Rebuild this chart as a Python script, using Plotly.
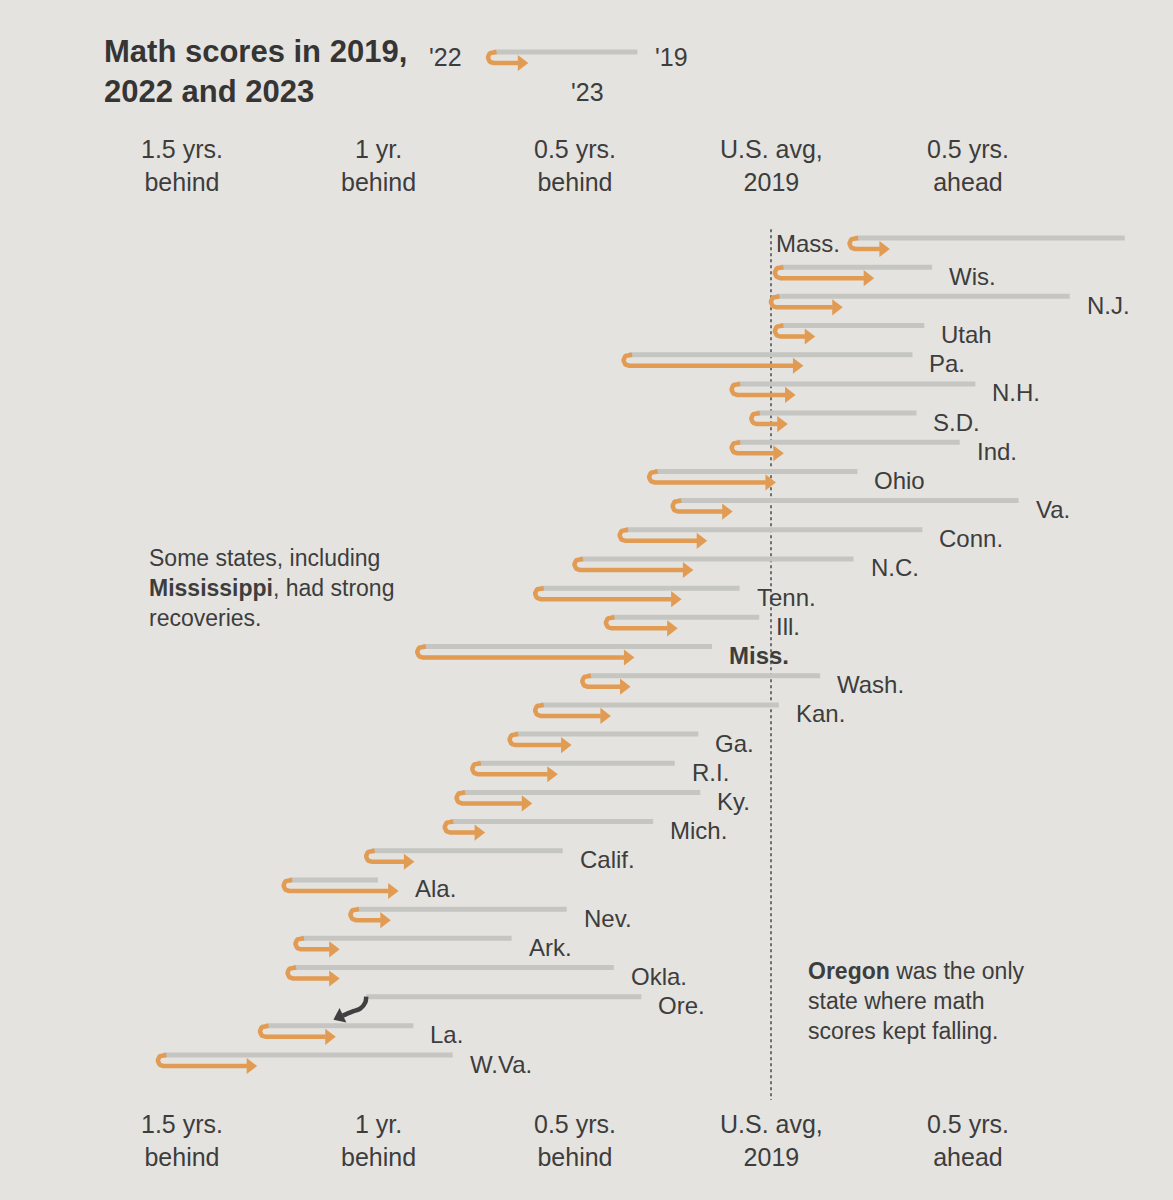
import numpy as np
import plotly.graph_objects as go

# ---------------- data (years relative to U.S. average 2019) ----------------
states = ["Mass.", "Wis.", "N.J.", "Utah", "Pa.", "N.H.", "S.D.", "Ind.", "Ohio", "Va.",
          "Conn.", "N.C.", "Tenn.", "Ill.", "Miss.", "Wash.", "Kan.", "Ga.", "R.I.", "Ky.",
          "Mich.", "Calif.", "Ala.", "Nev.", "Ark.", "Okla.", "Ore.", "La.", "W.Va."]
score_2019 = [0.90, 0.41, 0.76, 0.39, 0.36, 0.52, 0.37, 0.48, 0.22, 0.63,
              0.385, 0.21, -0.08, -0.03, -0.15, 0.125, 0.02, -0.185, -0.245, -0.18,
              -0.30, -0.53, -1.00, -0.52, -0.66, -0.40, -0.33, -0.91, -0.81]
score_2022 = [0.20, 0.01, 0.00, 0.01, -0.375, -0.10, -0.05, -0.10, -0.31, -0.25,
              -0.385, -0.50, -0.60, -0.42, -0.90, -0.48, -0.60, -0.665, -0.76, -0.80,
              -0.83, -1.03, -1.24, -1.07, -1.21, -1.23, -1.03, -1.30, -1.56]
score_2023 = [0.30, 0.26, 0.18, 0.11, 0.08, 0.06, 0.04, 0.03, 0.01, -0.10,
              -0.165, -0.20, -0.23, -0.24, -0.35, -0.36, -0.41, -0.51, -0.545, -0.61,
              -0.73, -0.91, -0.95, -0.97, -1.10, -1.10, -1.11, -1.11, -1.31]
tick_vals = [-1.5, -1.0, -0.5, 0.0, 0.5]
tick_text = ["1.5 yrs.<br>behind", "1 yr.<br>behind", "0.5 yrs.<br>behind",
             "U.S. avg,<br>2019", "0.5 yrs.<br>ahead"]
legend_sample = {"2022": -0.72, "2023": -0.62, "2019": -0.34}
highlight_up = "Miss."
highlight_down = "Ore."

# ---------------- styling / layout constants ----------------
W, H = 1173, 1200
X0PX, XS = 771, 393          # pixel of zero, pixels per year
ROW0, ROWH = 238, 29.18      # pixel of first row, pixels per row
BG = "#e4e3df"
GRAY = "#c5c5c1"
ORANGE = "#e29b52"
DARK = "#404040"
TXT = "#3d3d3d"
FONT = "Liberation Sans, Arial, sans-serif"
NARROW = "Liberation Sans Narrow, Liberation Sans, Arial, sans-serif"

def dx(p):
    return p / XS

def dy(p):
    return p / ROWH

R = 5.5  # hook radius in px

gx, gy, ox, oy, hx, hy = [], [], [], [], [], []

def add_glyph(x22, x23, x19, row):
    cx = x22 + dx(R)
    cy = row + dy(R)
    gx.extend([cx, x19, None]); gy.extend([row, row, None])
    th = np.linspace(np.pi / 2, 3 * np.pi / 2, 16)
    xs = list(cx + dx(R) * np.cos(th))
    ys = list(cy - dy(R) * np.sin(th))
    xs = [cx + dx(3)] + xs + [x23 - dx(9)]
    ys = [row] + ys + [row + dy(2 * R)]
    ox.extend(xs + [None]); oy.extend(ys + [None])
    hx.append(x23 - dx(6)); hy.append(row + dy(2 * R))

ore_i = states.index(highlight_down)
for i, s in enumerate(states):
    if i == ore_i:
        gx.extend([score_2022[i], score_2019[i], None]); gy.extend([i, i, None])
    else:
        add_glyph(score_2022[i], score_2023[i], score_2019[i], i)

legend_row = (52 - ROW0) / ROWH
add_glyph(legend_sample["2022"], legend_sample["2023"], legend_sample["2019"], legend_row)

fig = go.Figure()
fig.add_trace(go.Scatter(x=gx, y=gy, mode="lines", line=dict(color=GRAY, width=5),
                         hoverinfo="skip", showlegend=False))
fig.add_trace(go.Scatter(x=ox, y=oy, mode="lines", line=dict(color=ORANGE, width=4.5),
                         hoverinfo="skip", showlegend=False))
fig.add_trace(go.Scatter(x=hx, y=hy, mode="markers",
                         marker=dict(symbol="triangle-right", size=14, color=ORANGE),
                         hoverinfo="skip", showlegend=False))

# Oregon: kept falling
o22, o23 = score_2022[ore_i], score_2023[ore_i]
fig.add_trace(go.Scatter(
    x=[o22, o22 - dx(1), o22 - dx(6), o22 - dx(14), o23 + dx(8)],
    y=[ore_i, ore_i + dy(6), ore_i + dy(12), ore_i + dy(15), ore_i + dy(19)],
    mode="lines", line=dict(color=DARK, width=4.5, shape="spline"),
    hoverinfo="skip", showlegend=False))
fig.add_trace(go.Scatter(x=[o23 + dx(5)], y=[ore_i + dy(20)], mode="markers",
                         marker=dict(symbol="triangle-left", size=14, color=DARK, angle=-25),
                         hoverinfo="skip", showlegend=False))

# U.S. avg dotted line
fig.add_shape(type="line", xref="x", yref="y", x0=0, x1=0,
              y0=-0.3, y1=(1100 - ROW0) / ROWH,
              line=dict(color="#6f6f6f", width=2, dash="dot"), layer="below")

ann = []
# state labels
for i, s in enumerate(states):
    txt = f"<b>{s}</b>" if s == highlight_up else s
    if i == 0:
        ann.append(dict(x=score_2022[i] - dx(8), y=i + dy(5), xref="x", yref="y",
                        text=txt, showarrow=False, xanchor="right", yanchor="middle",
                        font=dict(size=24, color=TXT, family=FONT)))
    else:
        xe = max(score_2019[i], score_2023[i], score_2022[i])
        ann.append(dict(x=xe + dx(15), y=i + dy(9), xref="x", yref="y",
                        text=txt, showarrow=False, xanchor="left", yanchor="middle",
                        font=dict(size=24, color=TXT, family=FONT)))

# axis labels top and bottom
for v, t in zip(tick_vals, tick_text):
    ann.append(dict(x=v, y=1 - 166 / H, xref="x", yref="paper", text=t, showarrow=False,
                    xanchor="center", yanchor="middle", align="center",
                    font=dict(size=25, color=TXT, family=NARROW)))
    ann.append(dict(x=v, y=1 - 1140 / H, xref="x", yref="paper", text=t, showarrow=False,
                    xanchor="center", yanchor="middle", align="center",
                    font=dict(size=25, color=TXT, family=NARROW)))

# title
ann.append(dict(x=102 / W, y=1 - 32 / H, xref="paper", yref="paper",
                text="<b>Math scores in 2019,<br>2022 and 2023</b>", showarrow=False,
                xanchor="left", yanchor="top", align="left",
                font=dict(size=31, color="#353535", family=NARROW)))
# legend labels
ann.append(dict(x=legend_sample["2022"] - dx(24), y=legend_row + dy(5), xref="x", yref="y",
                text="'22", showarrow=False, xanchor="right", yanchor="middle",
                font=dict(size=25, color=TXT, family=NARROW)))
ann.append(dict(x=legend_sample["2019"] + dx(16), y=legend_row + dy(5), xref="x", yref="y",
                text="'19", showarrow=False, xanchor="left", yanchor="middle",
                font=dict(size=25, color=TXT, family=NARROW)))
ann.append(dict(x=587 / W, y=1 - 92 / H, xref="paper", yref="paper",
                text="'23", showarrow=False, xanchor="center", yanchor="middle",
                font=dict(size=25, color=TXT, family=NARROW)))

# notes
ann.append(dict(x=147 / W, y=1 - 543 / H, xref="paper", yref="paper",
                text="Some states, including<br><b>Mississippi</b>, had strong<br>recoveries.",
                showarrow=False, xanchor="left", yanchor="top", align="left",
                font=dict(size=23, color=TXT, family=FONT)))
ann.append(dict(x=806 / W, y=1 - 956 / H, xref="paper", yref="paper",
                text="<b>Oregon</b> was the only<br>state where math<br>scores kept falling.",
                showarrow=False, xanchor="left", yanchor="top", align="left",
                font=dict(size=23, color=TXT, family=FONT)))

fig.update_layout(
    width=W, height=H, margin=dict(l=0, r=0, t=0, b=0),
    paper_bgcolor=BG, plot_bgcolor=BG,
    xaxis=dict(range=[-X0PX / XS, (W - X0PX) / XS], visible=False, fixedrange=True),
    yaxis=dict(range=[(H - ROW0) / ROWH, -ROW0 / ROWH], visible=False, fixedrange=True),
    annotations=ann, showlegend=False,
)
fig.write_html("out.html")
